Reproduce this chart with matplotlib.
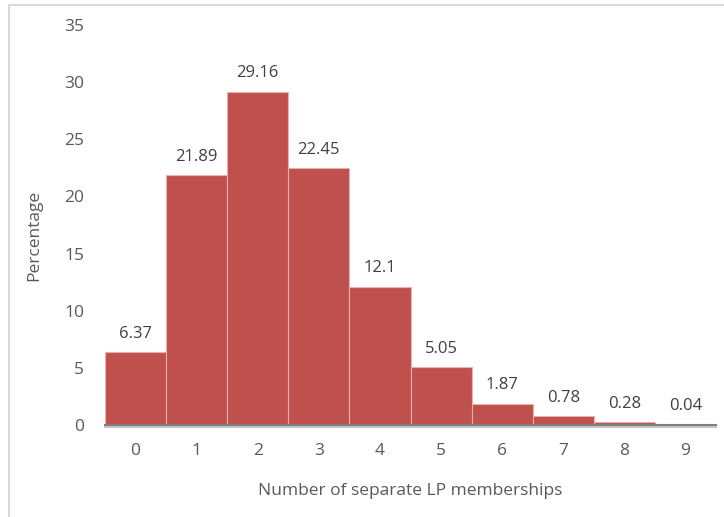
import numpy as np
import matplotlib
matplotlib.use('Agg')
import matplotlib.pyplot as plt
from matplotlib.lines import Line2D
import matplotlib.patheffects as pe

plt.rcParams['font.family'] = ['Open Sans', 'DejaVu Sans']

memberships = [0, 1, 2, 3, 4, 5, 6, 7, 8, 9]
percentage = [6.37, 21.89, 29.16, 22.45, 12.1, 5.05, 1.87, 0.78, 0.28, 0.04]
value_labels = ['6.37', '21.89', '29.16', '22.45', '12.1', '5.05', '1.87', '0.78', '0.28', '0.04']

txt = '#595959'
fig = plt.figure(figsize=(7.24, 5.17), dpi=100)
ax = fig.add_axes([105/724, 1-425/517, 611/724, 400/517])

bars = ax.bar(memberships, percentage, width=1.0, color='#C0504D',
              edgecolor='#E6B0AE', linewidth=0.8)
for x, v, s in zip(memberships, percentage, value_labels):
    ax.text(x, v + 0.9, s, ha='center', va='bottom', fontsize=12, color='#404040')

ax.set_xlim(-0.5, 9.5)
ax.set_ylim(0, 35)
ax.set_yticks(np.arange(0, 36, 5))
ax.set_xticks(memberships)
ax.tick_params(length=0, labelsize=12.5, labelcolor=txt)
ax.tick_params(axis='x', pad=13)
ax.tick_params(axis='y', pad=15)
for s in ['top', 'right', 'left']:
    ax.spines[s].set_visible(False)
ax.spines['bottom'].set_color('#7F7F7F')
ax.spines['bottom'].set_linewidth(1.5)
ax.spines['bottom'].set_path_effects([pe.SimpleLineShadow(offset=(0, -1.5), shadow_color='#A0A0A0', alpha=0.6), pe.Normal()])

ax.set_xlabel('Number of separate LP memberships', fontsize=12.5, color=txt)
ax.set_ylabel('Percentage', fontsize=12.5, color=txt)
ax.xaxis.set_label_coords(0.5, -0.145)
ax.yaxis.set_label_coords(-0.102, 0.475)

# outer chart border
fig.add_artist(Line2D([9/724, 1], [1-5/517, 1-5/517], color='#D9D9D9', lw=1.5))
fig.add_artist(Line2D([9/724, 9/724], [0, 1-5/517], color='#D9D9D9', lw=1.5))

fig.savefig('out.png', dpi=100)
